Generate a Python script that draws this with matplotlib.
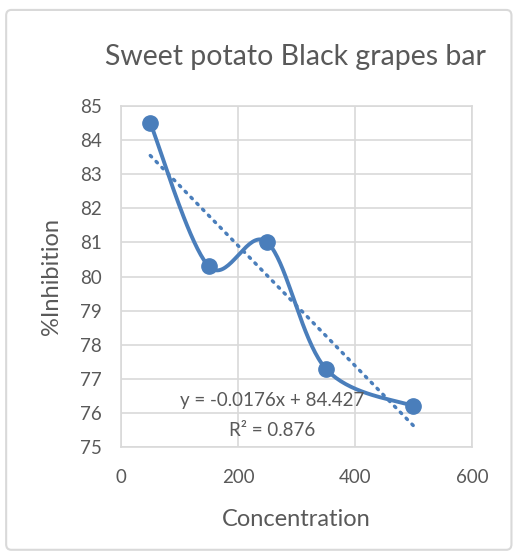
import numpy as np
import matplotlib.pyplot as plt
from matplotlib.patches import FancyBboxPatch

### Data ###
conc = [50, 150, 250, 350, 500]
inhibition = [84.5, 80.3, 81.0, 77.3, 76.2]
slope, intercept = -0.0176, 84.427
r2 = 0.876
xticks = [0, 200, 400, 600]
yticks = list(range(75, 86))

BLUE = "#4a7ebb"
GRID = "#d9d9d9"
TEXT = "#595959"
plt.rcParams['font.family'] = ['Lato', 'DejaVu Sans']


def smooth(xs, ys, n=40):
    # Catmull-Rom style smoothing through the points (spreadsheet "smoothed line")
    xs = np.asarray(xs, float)
    ys = np.asarray(ys, float)
    px = np.concatenate([[xs[0]], xs, [xs[-1]]])
    py = np.concatenate([[ys[0]], ys, [ys[-1]]])
    outx, outy = [], []
    for i in range(1, len(px) - 2):
        p0, p1, p2, p3 = [np.array([px[j], py[j]]) for j in (i - 1, i, i + 1, i + 2)]
        c1 = p1 + (p2 - p0) / 6
        c2 = p2 - (p3 - p1) / 6
        t = np.linspace(0, 1, n)[:, None]
        pts = ((1 - t) ** 3) * p1 + 3 * ((1 - t) ** 2) * t * c1 + 3 * (1 - t) * t ** 2 * c2 + t ** 3 * p2
        outx.extend(pts[:, 0])
        outy.extend(pts[:, 1])
    return np.array(outx), np.array(outy)


fig = plt.figure(figsize=(5.13, 5.52), dpi=100)
fig.patches.append(FancyBboxPatch((0.012, 0.004), 0.985, 0.978,
                                  boxstyle="round,pad=0,rounding_size=0.01",
                                  transform=fig.transFigure, fill=False,
                                  edgecolor="#d9d9d9", linewidth=1.5))
ax = fig.add_axes([0.236, 0.190, 0.684, 0.618])

# Smoothed series line and markers
sx, sy = smooth(conc, inhibition)
ax.plot(sx, sy, color=BLUE, lw=2.8, zorder=3)
ax.plot(conc, inhibition, 'o', color=BLUE, markersize=11, zorder=4)

# Linear trendline
tx = np.array([conc[0], conc[-1]])
ax.plot(tx, slope * tx + intercept, color=BLUE, lw=2.5, linestyle=(0, (0.5, 1.9)),
        dash_capstyle='round', zorder=3)

ax.text(258, 76.38, f"y = {slope}x + {intercept}", ha='center', va='center',
        fontsize=13.5, color=TEXT, zorder=5)
ax.text(258, 75.48, f"R² = {r2}", ha='center', va='center', fontsize=13.5,
        color=TEXT, zorder=5)

ax.set_xlim(0, 600)
ax.set_ylim(75, 85)
ax.set_xticks(xticks)
ax.set_yticks(yticks)
ax.grid(True, color=GRID, lw=1.2)
ax.set_axisbelow(True)
for s in ax.spines.values():
    s.set_color(GRID)
    s.set_linewidth(1.2)
ax.tick_params(length=0, labelsize=13.5, labelcolor=TEXT, pad=16)
ax.tick_params(axis='y', pad=14)

ax.set_xlabel("Concentration", fontsize=17, color=TEXT, labelpad=16)
ax.set_ylabel("%Inhibition", fontsize=17, color=TEXT, labelpad=13)
fig.text(0.575, 0.897, "Sweet potato Black grapes bar", ha='center', va='center',
         fontsize=20.5, color=TEXT)

fig.savefig("out.png", dpi=100)
